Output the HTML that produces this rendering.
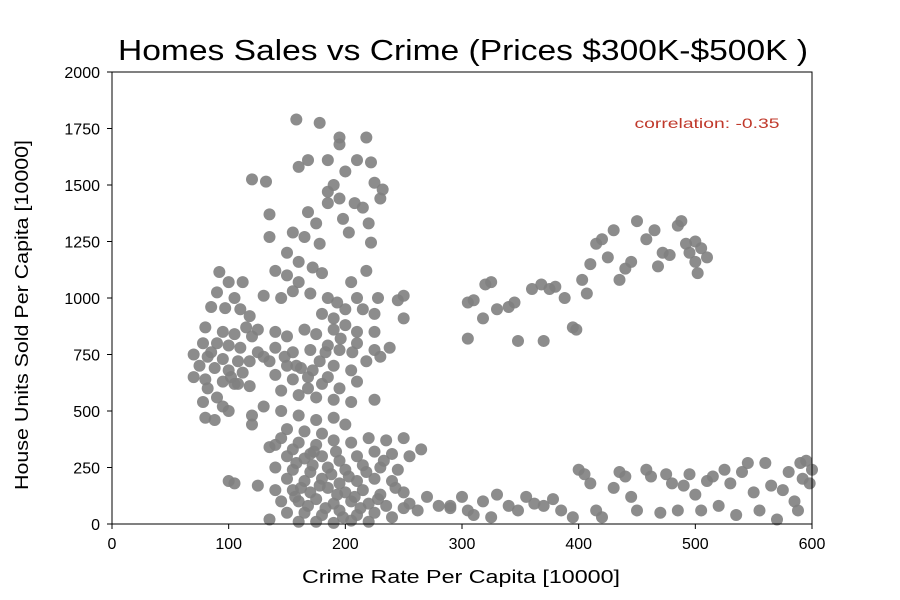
<!DOCTYPE html>
<html><head><meta charset="utf-8"><style>
html,body{margin:0;padding:0;background:#fff;}
svg{display:block;font-family:"Liberation Sans","DejaVu Sans",sans-serif;}
</style></head><body>
<svg id="chart" width="900" height="600">
<text x="463" y="60" font-size="29" text-anchor="middle" textLength="690" lengthAdjust="spacingAndGlyphs" fill="#000">Homes Sales vs Crime (Prices $300K-$500K )</text>
<text x="707" y="128" font-size="14" text-anchor="middle" textLength="145" lengthAdjust="spacingAndGlyphs" fill="#c0392b">correlation: -0.35</text>
<text x="461" y="583" font-size="18" text-anchor="middle" textLength="318" lengthAdjust="spacingAndGlyphs">Crime Rate Per Capita [10000]</text>
<text transform="translate(28,315) rotate(-90)" font-size="18" text-anchor="middle" textLength="350" lengthAdjust="spacingAndGlyphs">House Units Sold Per Capita [10000]</text>
<g id="points"></g>
<rect x="112" y="72" width="700" height="452" fill="none" stroke="#000" stroke-width="1"/>
<g id="ticks"></g>
</svg>
<script>
const xTicks=[0,100,200,300,400,500,600];
const yTicks=[0,250,500,750,1000,1250,1500,1750,2000];
const upperCluster=[[158,1790],[178,1775],[195,1710],[218,1710],[195,1680],[168,1610],[160,1580],[185,1610],[210,1610],[222,1600],[200,1560],[120,1525],[132,1515],[190,1500],[225,1510],[232,1480],[185,1470],[195,1440],[208,1420],[215,1400],[230,1440],[185,1420],[168,1380],[175,1330],[198,1350],[220,1330],[135,1370],[155,1290],[178,1240],[203,1290],[222,1245],[165,1270],[135,1270],[150,1200],[160,1160],[140,1120],[150,1100],[172,1135],[180,1110],[205,1070],[218,1120],[160,1070],[155,1030],[170,1020],[185,1000],[193,980],[210,1000],[228,1000],[245,990],[250,1010],[200,950],[215,950],[180,930],[190,910],[225,930],[250,910],[145,1000],[130,1010]];
const leftCluster=[[92,1115],[100,1070],[112,1070],[90,1025],[105,1000],[85,960],[97,955],[110,950],[118,920],[80,870],[95,850],[105,840],[120,830],[78,800],[90,800],[100,790],[110,780],[125,760],[70,750],[82,740],[95,730],[108,720],[118,720],[130,740],[75,700],[88,690],[100,680],[112,670],[70,650],[80,640],[95,630],[105,620],[118,610],[82,600],[90,560],[78,540],[95,520],[100,500],[80,470],[88,460],[108,620],[102,650],[85,760],[115,870],[125,860]];
const midCluster=[[140,850],[150,830],[165,860],[175,840],[190,860],[200,880],[210,850],[225,850],[140,780],[155,760],[170,770],[185,790],[195,770],[210,800],[225,770],[238,780],[135,720],[150,700],[162,690],[178,720],[190,700],[205,680],[218,720],[230,740],[140,660],[155,640],[168,650],[180,620],[195,600],[210,630],[145,590],[160,570],[175,560],[190,550],[205,540],[225,550],[130,520],[145,500],[160,480],[175,460],[190,470],[200,440],[120,480],[120,440],[150,420],[165,410],[180,400],[140,350],[155,330],[170,310],[135,340],[172,680],[158,700],[183,760],[168,600],[185,650],[196,820],[206,760],[148,740]];
const lowLeftBand=[[145,380],[160,360],[175,350],[190,370],[205,360],[220,380],[235,370],[250,380],[150,300],[165,290],[180,300],[195,280],[210,300],[225,320],[240,310],[255,300],[265,330],[140,250],[155,240],[170,230],[185,250],[200,240],[215,260],[230,250],[245,240],[150,200],[165,190],[180,200],[195,180],[210,190],[225,200],[240,190],[100,190],[105,180],[125,170],[140,150],[155,150],[170,140],[185,160],[200,140],[215,150],[230,130],[250,140],[145,100],[160,100],[175,110],[190,90],[205,100],[220,90],[235,80],[250,70],[262,60],[150,50],[165,50],[180,40],[195,60],[210,40],[225,50],[240,30],[160,10],[175,10],[190,5],[205,15],[220,10],[135,20],[270,120],[280,80],[290,70],[255,90],[158,270],[172,260],[188,220],[203,210],[218,230],[162,160],[178,170],[193,130],[208,120],[168,80],[183,70],[198,30],[213,70],[228,110],[243,160],[157,120],[173,320],[192,320],[233,280]];
const risingCluster=[[305,820],[305,980],[310,990],[318,910],[320,1060],[325,1070],[330,950],[340,960],[345,980],[348,810],[360,1040],[368,1060],[370,810],[375,1040],[380,1050],[388,1000],[395,870],[398,860],[403,1080],[407,1020],[410,1150],[415,1240],[420,1260],[425,1180],[430,1300],[435,1080],[440,1130],[445,1160],[450,1340],[458,1260],[465,1300],[468,1140],[472,1200],[478,1190],[485,1320],[488,1340],[492,1240],[495,1200],[500,1160],[500,1250],[505,1220],[510,1180],[502,1110]];
const lowRightBand=[[290,80],[300,120],[305,60],[310,40],[318,100],[325,30],[330,130],[340,80],[348,60],[355,120],[362,90],[370,80],[378,110],[385,60],[395,30],[400,240],[405,220],[410,180],[415,60],[420,30],[430,160],[435,230],[440,210],[445,120],[450,60],[458,240],[462,210],[470,50],[475,220],[480,180],[485,60],[490,170],[495,220],[500,130],[505,60],[510,190],[515,210],[520,80],[525,240],[530,180],[535,40],[540,230],[545,270],[550,140],[555,60],[560,270],[565,170],[570,20],[575,150],[580,230],[585,100],[590,270],[595,280],[598,180],[592,200],[588,60],[600,240]];

const NS='http://www.w3.org/2000/svg';
function xScale(v){return 112+v/600*700;}
function yScale(v){return 524-v/2000*452;}
const pg=document.getElementById('points');
[upperCluster,leftCluster,midCluster,lowLeftBand,risingCluster,lowRightBand].forEach(arr=>{
  arr.forEach(p=>{
    const c=document.createElementNS(NS,'circle');
    c.setAttribute('cx',xScale(p[0]));c.setAttribute('cy',yScale(p[1]));
    c.setAttribute('r',6);c.setAttribute('fill','#808080');c.setAttribute('fill-opacity','0.9');
    
    
    pg.appendChild(c);
  });
});
const tg=document.getElementById('ticks');
xTicks.forEach(t=>{
  const x=xScale(t);
  const l=document.createElementNS(NS,'line');
  l.setAttribute('x1',x);l.setAttribute('x2',x);l.setAttribute('y1',524);l.setAttribute('y2',529);l.setAttribute('stroke','#000');
  
  
  tg.appendChild(l);
  const tx=document.createElementNS(NS,'text');
  tx.setAttribute('x',x);tx.setAttribute('y',549);tx.setAttribute('font-size','16');tx.setAttribute('text-anchor','middle');
  tx.textContent=t;
  
  
  tg.appendChild(tx);
});
yTicks.forEach(t=>{
  const y=yScale(t);
  const l=document.createElementNS(NS,'line');
  l.setAttribute('x1',107);l.setAttribute('x2',112);l.setAttribute('y1',y);l.setAttribute('y2',y);l.setAttribute('stroke','#000');
  
  
  tg.appendChild(l);
  const tx=document.createElementNS(NS,'text');
  tx.setAttribute('x',100);tx.setAttribute('y',y+6);tx.setAttribute('font-size','16');tx.setAttribute('text-anchor','end');
  tx.textContent=t;
  
  
  tg.appendChild(tx);
});
</script>
</body></html>
